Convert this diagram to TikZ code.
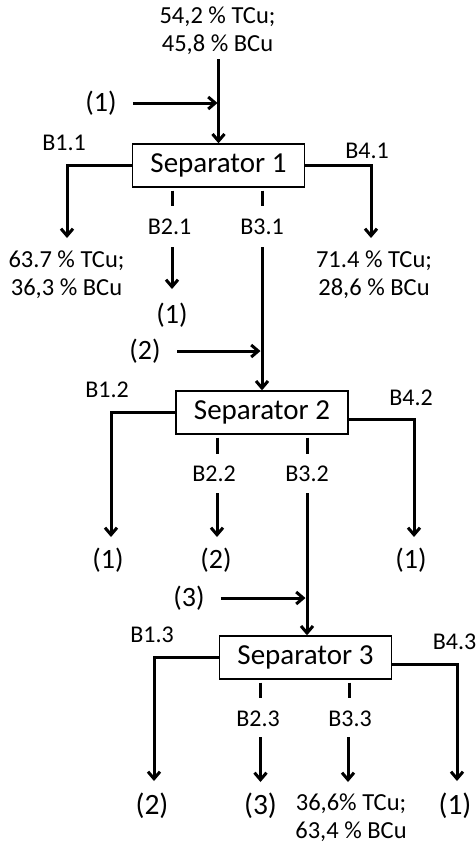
\documentclass[tikz,border=0pt]{standalone}
\usepackage{fontspec}
\setmainfont{Carlito}
\usetikzlibrary{arrows.meta}
\begin{document}
\begin{tikzpicture}[x=1pt,y=1pt,
  conn/.style={line width=3pt},
  arr/.style={line width=3pt,-{Straight Barb[length=7pt,width=12pt]}},
  sepbox/.style={draw,line width=1.4pt,minimum width=172pt,minimum height=43pt,inner sep=0pt,
    font=\fontsize{29}{32}\selectfont},
  blab/.style={inner sep=0pt,anchor=base,font=\fontsize{24}{28}\selectfont},
  pct/.style={inner sep=0pt,anchor=base,align=center,font=\fontsize{24.5}{28}\selectfont},
  par/.style={inner sep=0pt,font=\fontsize{28}{30}\selectfont},
  parb/.style={inner sep=0pt,font=\fontsize{29.5}{30}\selectfont}]
\useasboundingbox (0,0) rectangle (476,-843);

% separators
\node[sepbox] (s1) at (218.5,-165.5) {Separator 1};
\node[sepbox] (s2) at (262,-412.5) {Separator 2};
\node[sepbox] (s3) at (305.5,-657.5) {Separator 3};

% top input
\node[pct] (in) at (217.5,-52) {54,2 \% TCu;\\45,8 \% BCu};
\node[par] (p0) at (101,-103) {(1)};
\draw[arr,shorten <=4pt] (in.south -| s1.north) -- (s1.north);
\draw[arr,shorten >=1pt] ([xshift=16pt]p0.east) -- (p0.east -| s1.north);

% separator 1 outputs
\node[blab] (b11) at (64,-150) {B1.1};
\node[blab] (b41) at (367,-158) {B4.1};
\node[blab] (b21) at (169.5,-234) {B2.1};
\node[blab] (b31) at (262,-234) {B3.1};
\coordinate (t11) at (67,-238);
\coordinate (t41) at (371,-238);
\node[pct] (o11) at (66.5,-295) {63.7 \% TCu;\\36,3 \% BCu};
\node[pct] (o41) at (374,-295) {71.4 \% TCu;\\28,6 \% BCu};
\node[par] (p21) at (172,-315) {(1)};
\draw[arr] (s1.west) -| (t11);
\draw[arr] (s1.east) -| (t41);
\draw[conn,shorten <=3pt] (s1.south -| p21) -- ++(0,-18);
\draw[conn,shorten <=3pt] (s1.south -| b31) -- ++(0,-18);
\draw[arr] ([yshift=-13pt]b21.base -| p21) -- ++(0,-42);
\draw[arr] ([yshift=-13pt]b31.base) -- (b31 |- s2.north);

% input (2)
\node[par] (p1b) at (145,-351) {(2)};
\draw[arr,shorten >=1.5pt] ([xshift=16.5pt]p1b.east) -- (p1b.east -| b31);

% separator 2 outputs
\node[blab] (b12) at (107,-397) {B1.2};
\node[blab] (b42) at (411,-405) {B4.2};
\node[blab] (b22) at (214,-481) {B2.2};
\node[blab] (b32) at (307,-481) {B3.2};
\coordinate (t12) at (111,-537);
\coordinate (t42) at (414,-537);
\node[par] (p12) at (108,-560) {(1)};
\node[par] (p22) at (216,-560) {(2)};
\node[par] (p42) at (411,-560) {(1)};
\draw[arr] (s2.west) -| (t12);
\draw[arr] ([yshift=-7pt]s2.east) -| (t42);
\draw[conn,shorten <=3pt] (s2.south -| 217,0) -- ++(0,-19);
\draw[conn,shorten <=3pt] (s2.south -| b32) -- ++(0,-19);
\draw[arr] ([yshift=-12pt]b22.base -| 217,0) -- ++(0,-44);
\draw[arr] ([yshift=-12pt]b32.base) -- (b32 |- s3.north);

% input (3)
\node[par] (p2b) at (189,-598) {(3)};
\draw[arr,shorten >=1.5pt] ([xshift=16pt]p2b.east) -- (p2b.east -| b32);

% separator 3 outputs
\node[blab] (b13) at (152,-642) {B1.3};
\node[blab] (b43) at (454.5,-649) {B4.3};
\node[blab] (b23) at (258,-726) {B2.3};
\node[blab] (b33) at (350,-726) {B3.3};
\coordinate (t13) at (154,-781);
\coordinate (t43) at (457,-781);
\node[parb] (p13) at (152,-806) {(2)};
\node[parb] (p23) at (260.5,-806) {(3)};
\node[parb] (p43) at (455,-806) {(1)};
\node[pct] (o33) at (351,-838) {36,6\% TCu;\\63,4 \% BCu};
\draw[arr] (s3.west) -| (t13);
\draw[arr] ([yshift=-7pt]s3.east) -| (t43);
\draw[conn,shorten <=3pt] (s3.south -| p23) -- ++(0,-18);
\draw[conn,shorten <=3pt] (s3.south -| 349,0) -- ++(0,-18);
\draw[arr] ([yshift=-11pt]b23.base -| p23) -- ++(0,-45);
\draw[arr] ([yshift=-11pt]b33.base -| 348,0) -- ++(0,-45);
\end{tikzpicture}
\end{document}
